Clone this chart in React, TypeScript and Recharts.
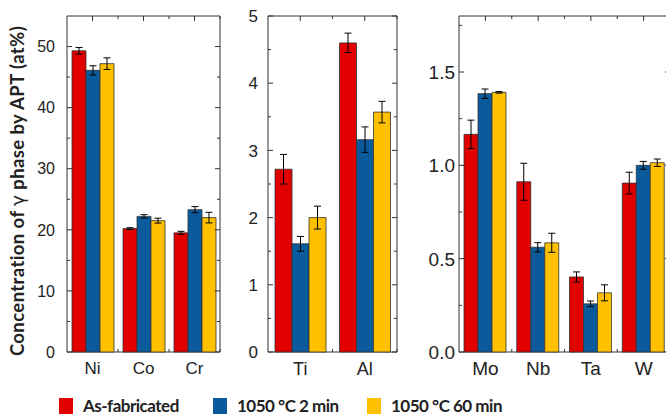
import { BarChart, Bar, XAxis, YAxis, ErrorBar, ReferenceArea } from 'recharts';

const RED = '#E00000';
const BLUE = '#0A5A9C';
const GOLD = '#FFC000';
const INK = '#333';
const TEXT = '#222';

// left panel (at%)
const leftCats = ['Ni', 'Co', 'Cr'];
const leftAsFab = [49.3, 20.2, 19.5];
const leftAsFabErr = [0.55, 0.15, 0.25];
const left2min = [46.1, 22.2, 23.3];
const left2minErr = [0.75, 0.28, 0.5];
const left60min = [47.2, 21.5, 22.0];
const left60minErr = [0.95, 0.4, 0.87];
const leftMajor = [0, 10, 20, 30, 40, 50];
const leftMinor = [5, 15, 25, 35, 45];

// middle panel
const midCats = ['Ti', 'Al'];
const midAsFab = [2.72, 4.6];
const midAsFabErr = [0.22, 0.145];
const mid2min = [1.61, 3.16];
const mid2minErr = [0.11, 0.19];
const mid60min = [2.0, 3.57];
const mid60minErr = [0.17, 0.16];
const midMajor = [0, 1, 2, 3, 4, 5];
const midMinor = [0.5, 1.5, 2.5, 3.5, 4.5];

// right panel
const rightCats = ['Mo', 'Nb', 'Ta', 'W'];
const rightAsFab = [1.166, 0.912, 0.402, 0.905];
const rightAsFabErr = [0.076, 0.099, 0.027, 0.058];
const right2min = [1.384, 0.561, 0.258, 1.0];
const right2minErr = [0.025, 0.025, 0.015, 0.021];
const right60min = [1.391, 0.585, 0.317, 1.014];
const right60minErr = [0.004, 0.051, 0.043, 0.02];
const rightMajor = [0, 0.5, 1.0, 1.5];
const rightMinor = [0.25, 0.75, 1.25, 1.75];

const seriesNames = ['As-fabricated', '1050 °C 2 min', '1050 °C 60 min'];
const seriesColors = [RED, BLUE, GOLD];

const HEIGHT = 390;
const TOP = 16;
const XH = 38;
const SANS = "'Liberation Sans', Arial, sans-serif";

function rows(cats: string[], a: number[], ae: number[], b: number[], be: number[], c: number[], ce: number[]) {
  return cats.map((el, i) => ({ el, a: a[i], ae: ae[i], b: b[i], be: be[i], c: c[i], ce: ce[i] }));
}

const YLabel = () => (
  <text
    transform="rotate(-90, 18, 191)"
    x={18}
    y={191}
    dy="0.35em"
    textAnchor="middle"
    fontFamily="Lato, 'Liberation Sans', sans-serif"
    fontWeight="bold"
    fontSize={18.5}
    letterSpacing={0.4}
    fill={TEXT}
  >
    Concentration of <tspan fontWeight="normal" fontFamily="'DejaVu Sans', sans-serif">γ</tspan> phase by APT (at%)
  </text>
);

type PanelProps = {
  data: any[];
  left: number;
  width: number;
  yWidth: number;
  rightMargin: number;
  max: number;
  major: number[];
  minor: number[];
  decimals: number;
  barSize: number;
  yMargin: number;
  tickFont: number;
  catFont: number;
  withLabel?: boolean;
};

function Panel({ data, left, width, yWidth, rightMargin, max, major, minor, decimals, barSize, yMargin, tickFont, catFont, withLabel }: PanelProps) {
  const plotW = width - yWidth - rightMargin;
  const plotH = HEIGHT - TOP - XH;
  const band = plotW / data.length;
  const ticks = [...major, ...minor].sort((p, q) => p - q);

  const yTick = (props: any) => {
    const { x, y, payload } = props;
    const v = payload.value;
    const isMajor = major.some((m) => Math.abs(m - v) < 1e-9);
    const ax = x + yMargin;
    const len = isMajor ? 5 : 3;
    return (
      <g>
        <line x1={ax} x2={ax + len} y1={y} y2={y} stroke={INK} />
        <line x1={ax + plotW} x2={ax + plotW - len} y1={y} y2={y} stroke={INK} />
        {isMajor && (
          <text x={x} y={y} dy="0.36em" textAnchor="end" fontSize={tickFont} fill={TEXT} fontFamily={SANS}>
            {v.toFixed(decimals)}
          </text>
        )}
      </g>
    );
  };

  const xTick = (props: any) => {
    const { x, y, payload } = props;
    const by = y - 10;
    const ty = by - plotH;
    return (
      <g>
        <line x1={x} x2={x} y1={ty} y2={ty + 5} stroke={INK} />
        <line x1={x + band / 2} x2={x + band / 2} y1={ty} y2={ty + 3} stroke={INK} />
        <line x1={x + band / 2} x2={x + band / 2} y1={by} y2={by - 3} stroke={INK} />
        <text x={x} y={y} dy="0.71em" textAnchor="middle" fontSize={catFont} fill={TEXT} fontFamily={SANS}>
          {payload.value}
        </text>
      </g>
    );
  };

  return (
    <div style={{ position: 'absolute', left, top: 0 }}>
      <BarChart
        width={width}
        height={HEIGHT}
        data={data}
        margin={{ top: TOP, right: rightMargin, bottom: 0, left: 0 }}
        barGap={0}
        barSize={barSize}
      >
        <XAxis dataKey="el" height={XH} tickSize={0} tickMargin={10} axisLine={false} tickLine={false} interval={0} tick={xTick} />
        <YAxis
          width={yWidth}
          domain={[0, max]}
          ticks={ticks}
          interval={0}
          tickSize={0}
          tickMargin={yMargin}
          axisLine={false}
          tickLine={false}
          tick={yTick}
          label={withLabel ? <YLabel /> : undefined}
        />
        <Bar dataKey="a" fill={RED} stroke={INK} strokeWidth={0.8} isAnimationActive={false}>
          <ErrorBar dataKey="ae" width={3.5} stroke="#000" strokeWidth={1} direction="y" />
        </Bar>
        <Bar dataKey="b" fill={BLUE} stroke={INK} strokeWidth={0.8} isAnimationActive={false}>
          <ErrorBar dataKey="be" width={3.5} stroke="#000" strokeWidth={1} direction="y" />
        </Bar>
        <Bar dataKey="c" fill={GOLD} stroke={INK} strokeWidth={0.8} isAnimationActive={false}>
          <ErrorBar dataKey="ce" width={3.5} stroke="#000" strokeWidth={1} direction="y" />
        </Bar>
        <ReferenceArea y1={0} y2={max} fill="none" stroke={INK} strokeWidth={1} />
      </BarChart>
    </div>
  );
}

export default function App() {
  const leftData = rows(leftCats, leftAsFab, leftAsFabErr, left2min, left2minErr, left60min, left60minErr);
  const midData = rows(midCats, midAsFab, midAsFabErr, mid2min, mid2minErr, mid60min, mid60minErr);
  const rightData = rows(rightCats, rightAsFab, rightAsFabErr, right2min, right2minErr, right60min, right60minErr);
  const legendLeft = [59, 213, 367];

  return (
    <div style={{ position: 'absolute', left: 0, top: 0, width: 666, height: 418, overflow: 'hidden', background: '#fff' }}>
      <Panel data={leftData} left={0} width={225} yWidth={67} rightMargin={5} max={55} major={leftMajor} minor={leftMinor} decimals={0} barSize={14} yMargin={12} tickFont={16} catFont={17} withLabel />
      <Panel data={midData} left={228} width={172} yWidth={40} rightMargin={3} max={5} major={midMajor} minor={midMinor} decimals={0} barSize={17} yMargin={10} tickFont={17} catFont={18} />
      <Panel data={rightData} left={400} width={280} yWidth={59} rightMargin={10} max={1.8} major={rightMajor} minor={rightMinor} decimals={1} barSize={14} yMargin={4} tickFont={19} catFont={19} />
      {seriesNames.map((name, i) => (
        <div
          key={name}
          style={{
            position: 'absolute',
            left: legendLeft[i],
            top: 397,
            display: 'flex',
            alignItems: 'center',
            height: 17,
            fontFamily: "Lato, 'Liberation Sans', sans-serif",
            fontWeight: 'bold',
            fontSize: 17,
            letterSpacing: -0.5,
            color: TEXT,
            whiteSpace: 'nowrap',
          }}
        >
          <span style={{ display: 'inline-block', width: 14, height: 16, background: seriesColors[i], marginRight: 10 }} />
          {name}
        </div>
      ))}
    </div>
  );
}
